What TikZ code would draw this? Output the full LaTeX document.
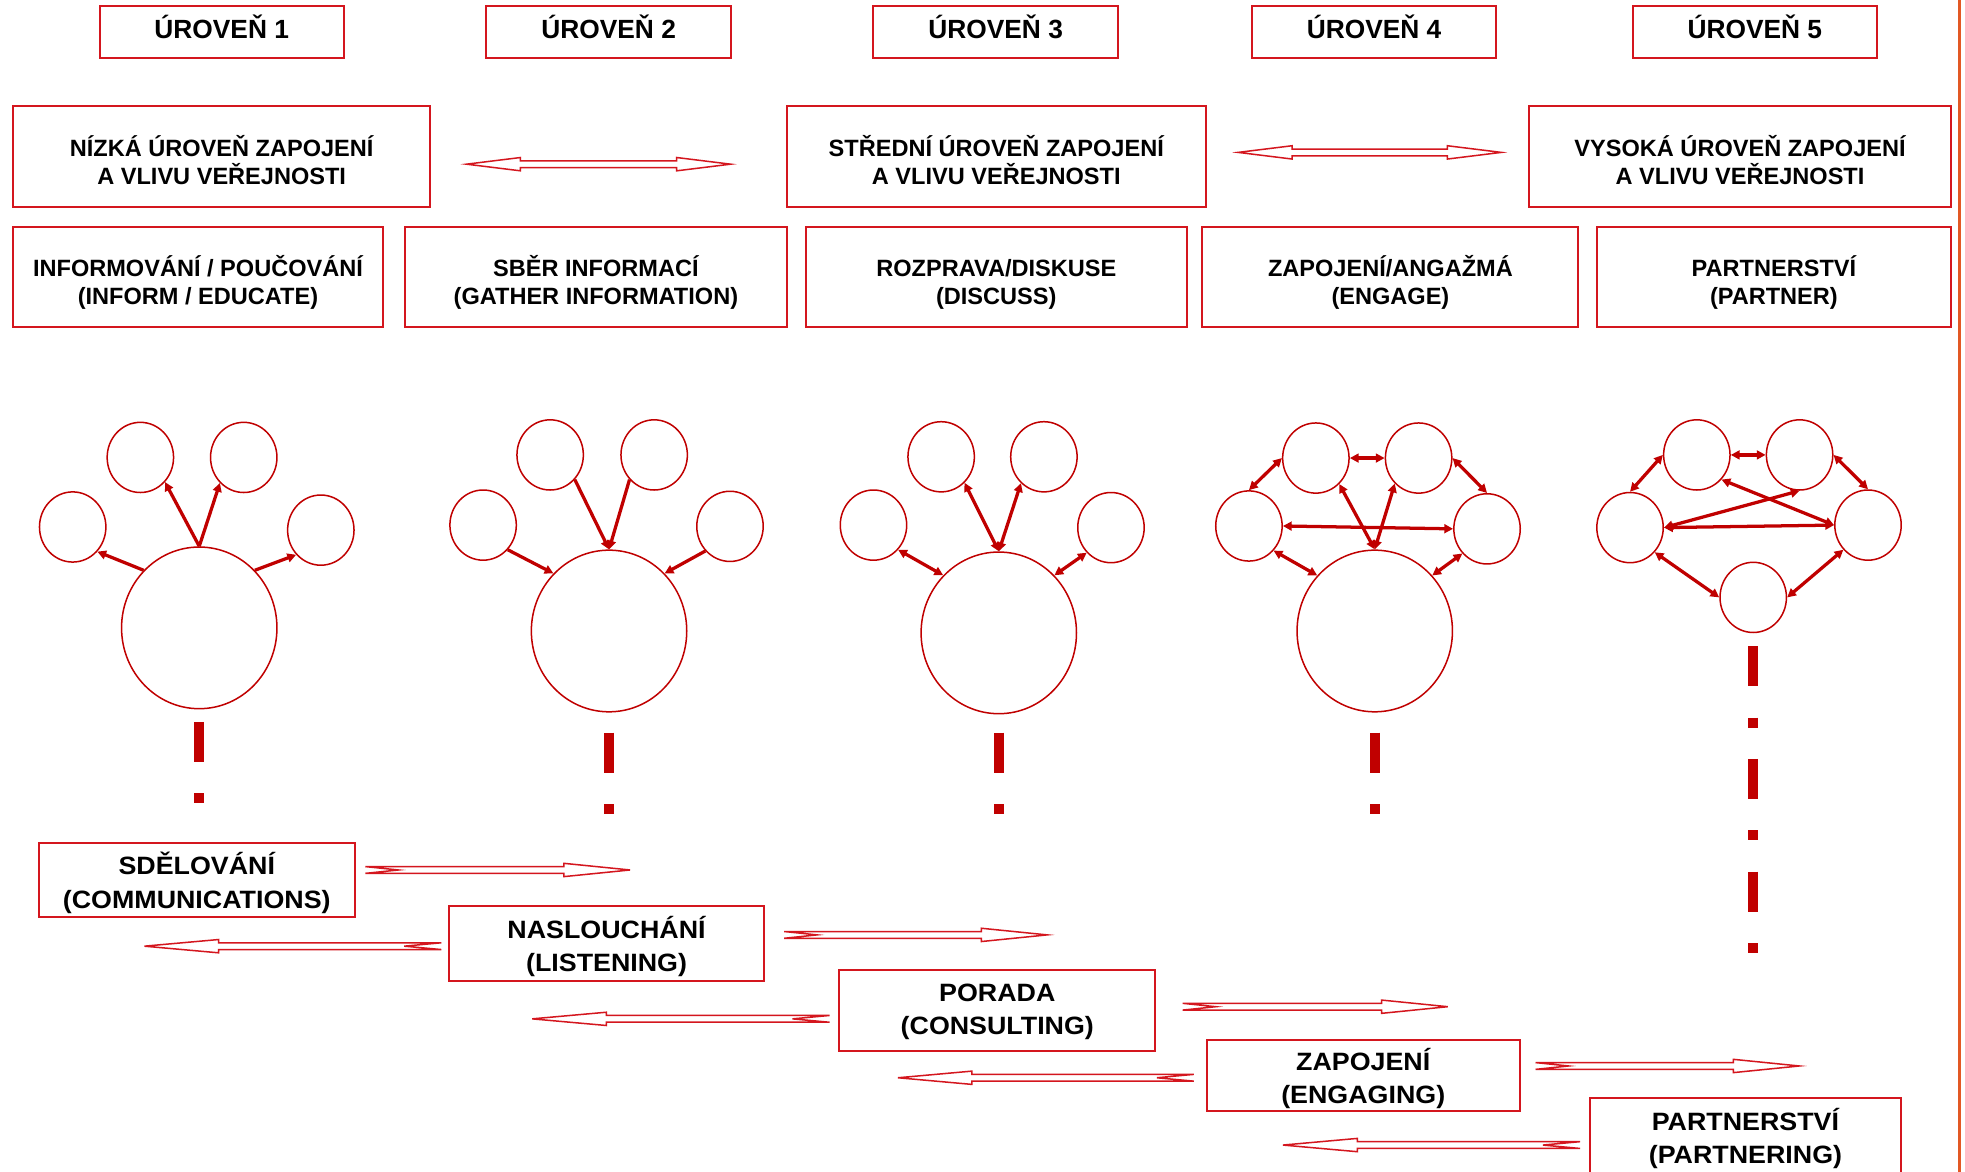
\documentclass[tikz,border=0pt]{standalone}
\usepackage{fontspec}
\setmainfont{Liberation Sans}
\newfontfamily\widesans[FakeStretch=1.07]{Liberation Sans}
\usetikzlibrary{shapes.geometric,arrows.meta}

\definecolor{boxred}{RGB}{212,22,30}
\definecolor{linkred}{RGB}{192,0,0}
\definecolor{edgeorange}{RGB}{226,88,36}

% invisible struts that fix the height of a first line and the depth of a last line
\newcommand\tallstrut[1]{\rule{0pt}{#1pt}}
\newcommand\deepstrut[1]{\rule[-#1pt]{0pt}{#1pt}}

\tikzset{
  lvlbox/.style={draw=boxred, line width=1.6pt, inner sep=0pt, align=center,
    font=\bfseries\fontsize{21}{25}\selectfont, minimum width=195pt, minimum height=42pt},
  infobox/.style={draw=boxred, line width=1.6pt, inner sep=0pt, align=center,
    font=\bfseries\fontsize{18.8}{22.5}\selectfont, minimum height=80pt},
  modebox/.style={draw=boxred, line width=1.6pt, inner sep=0pt, align=center,
    font=\widesans\bfseries\fontsize{20}{26.6}\selectfont},
  hubnode/.style={ellipse, draw=linkred, line width=1.2pt, inner sep=0pt,
    minimum width=124pt, minimum height=129pt},
  satnode/.style={ellipse, draw=linkred, line width=1.2pt, inner sep=0pt,
    minimum width=53pt, minimum height=56pt},
  oneflow/.style={draw=linkred, line width=2.6pt, -{Triangle[length=7pt,width=7pt]}},
  twoflow/.style={draw=linkred, line width=2.6pt,
    {Triangle[length=7pt,width=7pt]}-{Triangle[length=7pt,width=7pt]}},
  trail/.style={draw=linkred, line width=8pt, dash pattern=on 32pt off 25pt on 8pt off 25pt},
  blockarrow/.style={draw=boxred, line width=1.2pt, fill=white, line join=miter},
  % hollow double-headed arrow of length #1
  twoway/.pic={
    \path[blockarrow] (0,0) -- (43,-5.3) -- (43,-2.7) -- ({#1-43},-2.7) -- ({#1-43},-5.3)
      -- (#1,0) -- ({#1-43},5.3) -- ({#1-43},2.7) -- (43,2.7) -- (43,5.3) -- cycle;
  },
  % hollow arrow with notched tail, length #1
  oneway/.pic={
    \path[blockarrow] (0,-2.7) -- ({0.75*#1},-2.7) -- ({0.75*#1},-5.3) -- (#1,0)
      -- ({0.75*#1},5.3) -- ({0.75*#1},2.7) -- (0,2.7) -- ({0.125*#1},0) -- cycle;
  }
}

\begin{document}
\begin{tikzpicture}[x=1pt, y=-1pt]
\useasboundingbox (0,0) rectangle (1568,935);
\fill[white] (0,0) rectangle (1568,935);

% right edge rule
\draw[edgeorange, line width=3pt] (1563.5,0) -- (1563.5,935);

% level headings
\node[lvlbox] (u1) at (176.9,25.4) {\tallstrut{20.5}ÚROVEŇ 1\deepstrut{9.7}};
\node[lvlbox] (u2) at (485.7,25.4) {\tallstrut{20.5}ÚROVEŇ 2\deepstrut{9.7}};
\node[lvlbox] (u3) at (794.5,25.4) {\tallstrut{20.5}ÚROVEŇ 3\deepstrut{9.7}};
\node[lvlbox] (u4) at (1096.5,25.4) {\tallstrut{20.5}ÚROVEŇ 4\deepstrut{9.7}};
\node[lvlbox] (u5) at (1400.3,25.4) {\tallstrut{20.5}ÚROVEŇ 5\deepstrut{9.7}};

% degree of involvement
\node[infobox, minimum width=332.3pt] (n1) at (176.9,124.8)
  {\tallstrut{26.9}NÍZKÁ ÚROVEŇ ZAPOJENÍ\\A VLIVU VEŘEJNOSTI\deepstrut{5}};
\node[infobox, minimum width=334pt] (n2) at (795,124.8)
  {\tallstrut{26.9}STŘEDNÍ ÚROVEŇ ZAPOJENÍ\\A VLIVU VEŘEJNOSTI\deepstrut{5}};
\node[infobox, minimum width=337pt] (n3) at (1388.5,124.8)
  {\tallstrut{26.9}VYSOKÁ ÚROVEŇ ZAPOJENÍ\\A VLIVU VEŘEJNOSTI\deepstrut{5}};
\pic at (372.3,131) {twoway=210.7};
\pic at (988,121.6) {twoway=210};

% kinds of participation
\node[infobox, minimum width=294.6pt, minimum height=79.8pt] (m1) at (158,220.8)
  {\tallstrut{26.9}INFORMOVÁNÍ / POUČOVÁNÍ\\(INFORM / EDUCATE)\deepstrut{5}};
\node[infobox, minimum width=305pt, minimum height=79.8pt] (m2) at (475.5,220.8)
  {\tallstrut{26.9}SBĚR INFORMACÍ\\(GATHER INFORMATION)\deepstrut{5}};
\node[infobox, minimum width=304pt, minimum height=79.8pt] (m3) at (795,220.8)
  {\tallstrut{26.9}ROZPRAVA/DISKUSE\\(DISCUSS)\deepstrut{5}};
\node[infobox, minimum width=300pt, minimum height=79.8pt] (m4) at (1109.5,220.8)
  {\tallstrut{26.9}ZAPOJENÍ/ANGAŽMÁ\\(ENGAGE)\deepstrut{5}};
\node[infobox, minimum width=283pt, minimum height=79.8pt] (m5) at (1415.5,220.8)
  {\tallstrut{26.9}PARTNERSTVÍ\\(PARTNER)\deepstrut{5}};

% level 1: one-way outward
\node[hubnode] (a) at (159,501) {};
\node[satnode] (al) at (58,420.5) {};
\node[satnode] (atl) at (112,365) {};
\node[satnode] (atr) at (194.5,365) {};
\node[satnode] (ar) at (256,423) {};
\draw[oneflow] (a.north) -- (atl.-45);
\draw[oneflow] (a.north) -- (atr.-133);
\draw[oneflow] (a.134) -- (al.-45);
\draw[oneflow] (a.46) -- (ar.-135);
\draw[trail] ([yshift=-10pt]a.south) -- ++(0,65);

% level 2: one-way inward
\node[hubnode] (b) at (486,503.5) {};
\node[satnode] (bl) at (385.5,419) {};
\node[satnode] (btl) at (439,363) {};
\node[satnode] (btr) at (522,363) {};
\node[satnode] (br) at (582.5,420) {};
\draw[oneflow] (btl.-45) -- (b.north);
\draw[oneflow] (btr.-135) -- (b.north);
\draw[oneflow] (bl.-45) -- (b.134);
\draw[oneflow] (br.-135) -- (b.46);
\draw[trail] ([yshift=-16pt]b.south) -- ++(0,65);

% level 3: two-way with the centre
\node[hubnode] (c) at (797,505) {};
\node[satnode] (cl) at (697,419) {};
\node[satnode] (ctl) at (751,364.5) {};
\node[satnode] (ctr) at (833,364.5) {};
\node[satnode] (cr) at (886.5,421) {};
\draw[twoflow] (ctl.-48) -- (c.north);
\draw[twoflow] (ctr.-131) -- (c.north);
\draw[twoflow] (cl.-45) -- (c.134);
\draw[twoflow] (cr.-134) -- (c.46);
\draw[trail] ([yshift=-14.5pt]c.south) -- ++(0,65);

% level 4: two-way, members linked too
\node[hubnode] (d) at (1097,503.5) {};
\node[satnode] (dl) at (996.6,419.7) {};
\node[satnode] (dtl) at (1050,365.5) {};
\node[satnode] (dtr) at (1132,365.5) {};
\node[satnode] (dr) at (1186.6,422) {};
\draw[twoflow] (dtl) -- (dtr);
\draw[twoflow] (dl.north) -- (dtl.west);
\draw[twoflow] (dtr.east) -- (dr.north);
\draw[twoflow] (dl.east) -- (dr.west);
\draw[twoflow] (dl.-45) -- (d.136);
\draw[twoflow] (dr.-135) -- (d.44);
\draw[twoflow] (dtl.-48) -- (d.north);
\draw[twoflow] (dtr.-133) -- (d.north);
\draw[trail] ([yshift=-16pt]d.south) -- ++(0,65);

% level 5: network without a centre
\node[satnode] (el) at (1300.7,421) {};
\node[satnode] (etl) at (1354,363) {};
\node[satnode] (etr) at (1436,363) {};
\node[satnode] (er) at (1490.6,419) {};
\node[satnode] (eb) at (1399,476.7) {};
\draw[twoflow] (etl) -- (etr);
\draw[twoflow] (el.north) -- (etl.west);
\draw[twoflow] (etr.east) -- (er.north);
\draw[twoflow] (el.east) -- (er.west);
\draw[twoflow] (etr.south) -- (el.east);
\draw[twoflow] (etl.-45) -- (er.west);
\draw[twoflow] (el.-45) -- (eb.west);
\draw[twoflow] (er.-135) -- (eb.east);
\draw[trail] ([yshift=-10.3pt]eb.south) -- ++(0,245);

% modes of communication
\node[modebox, minimum width=252pt, minimum height=59pt] (s1) at (157,702.5)
  {\tallstrut{22.9}SDĚLOVÁNÍ\\(COMMUNICATIONS)\deepstrut{5}};
\node[modebox, minimum width=251pt, minimum height=60pt] (s2) at (484,753)
  {\tallstrut{22.7}NASLOUCHÁNÍ\\(LISTENING)\deepstrut{5}};
\node[modebox, minimum width=252pt, minimum height=64.4pt] (s3) at (795.8,806.2)
  {\tallstrut{16.9}PORADA\\(CONSULTING)\deepstrut{5}};
\node[modebox, minimum width=250pt, minimum height=56.6pt] (s4) at (1087.8,858.3)
  {\tallstrut{22.7}ZAPOJENÍ\\(ENGAGING)\deepstrut{5}};
\node[modebox, minimum width=248.4pt, minimum height=62pt] (s5) at (1392.8,907.4)
  {\tallstrut{20.5}PARTNERSTVÍ\\(PARTNERING)\deepstrut{5}};

\pic at (291.5,694.2) {oneway=211.3};
\pic at (625.7,746) {oneway=209.9};
\pic at (943.7,803.3) {oneway=211.6};
\pic at (1225.3,850.6) {oneway=210.5};
\pic[xscale=-1] at (352.2,755) {oneway=237};
\pic[xscale=-1] at (662,813) {oneway=237.4};
\pic[xscale=-1] at (952.6,860) {oneway=236};
\pic[xscale=-1] at (1260.8,913.7) {oneway=237};
\end{tikzpicture}
\end{document}
